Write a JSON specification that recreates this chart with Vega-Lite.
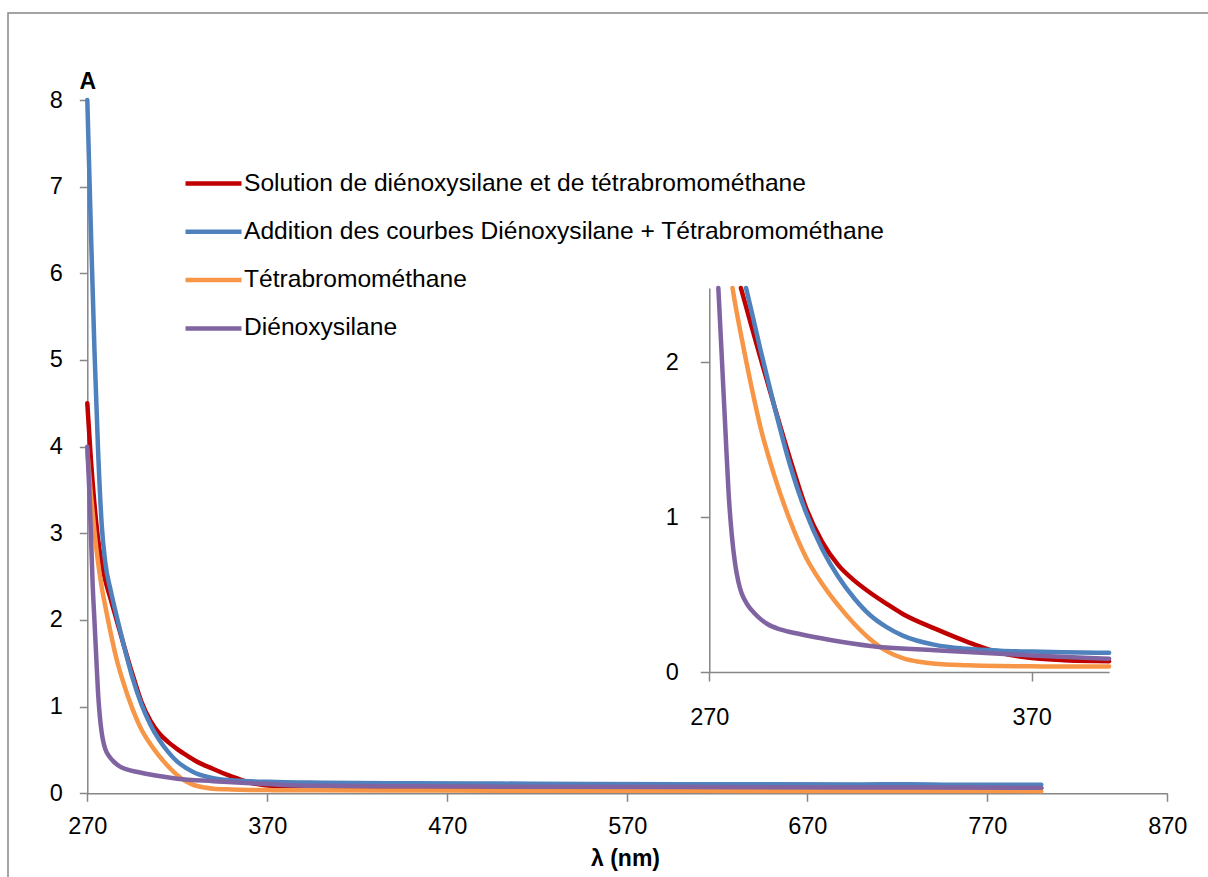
{
  "$schema": "https://vega.github.io/schema/vega-lite/v6.json",
  "width": 1210,
  "height": 870,
  "autosize": {"type": "none"},
  "padding": {"left": 8, "top": 13, "right": 0, "bottom": 0},
  "background": "white",
  "config": {
    "view": {"stroke": "#868686", "strokeWidth": 1.5},
    "axis": {
      "grid": false,
      "labelFlush": false,
      "labelFont": "Liberation Sans",
      "labelFontSize": 23.5,
      "labelColor": "#000000",
      "domainColor": "#868686",
      "domainWidth": 1.5,
      "tickColor": "#868686",
      "tickWidth": 1.5,
      "tickSize": 8,
      "titleFont": "Liberation Sans",
      "titleFontSize": 23,
      "titleFontWeight": "bold",
      "titleColor": "#000000"
    },
    "legend": {
      "labelFont": "Liberation Sans",
      "labelFontSize": 24.6,
      "labelColor": "#000000",
      "padding": 0
    }
  },
  "datasets": {
    "main": [
      {"s": "Solution de diénoxysilane et de tétrabromométhane", "x": 270, "y": 4.5},
      {"s": "Solution de diénoxysilane et de tétrabromométhane", "x": 272, "y": 3.85},
      {"s": "Solution de diénoxysilane et de tétrabromométhane", "x": 274, "y": 3.33},
      {"s": "Solution de diénoxysilane et de tétrabromométhane", "x": 276, "y": 2.93},
      {"s": "Solution de diénoxysilane et de tétrabromométhane", "x": 278, "y": 2.65},
      {"s": "Solution de diénoxysilane et de tétrabromométhane", "x": 280, "y": 2.46},
      {"s": "Solution de diénoxysilane et de tétrabromométhane", "x": 283, "y": 2.24},
      {"s": "Solution de diénoxysilane et de tétrabromométhane", "x": 286, "y": 2.02},
      {"s": "Solution de diénoxysilane et de tétrabromométhane", "x": 290, "y": 1.73},
      {"s": "Solution de diénoxysilane et de tétrabromométhane", "x": 295, "y": 1.38},
      {"s": "Solution de diénoxysilane et de tétrabromométhane", "x": 300, "y": 1.06},
      {"s": "Solution de diénoxysilane et de tétrabromométhane", "x": 305, "y": 0.84},
      {"s": "Solution de diénoxysilane et de tétrabromométhane", "x": 310, "y": 0.69},
      {"s": "Solution de diénoxysilane et de tétrabromométhane", "x": 315, "y": 0.59},
      {"s": "Solution de diénoxysilane et de tétrabromométhane", "x": 320, "y": 0.51},
      {"s": "Solution de diénoxysilane et de tétrabromométhane", "x": 325, "y": 0.44},
      {"s": "Solution de diénoxysilane et de tétrabromométhane", "x": 330, "y": 0.375},
      {"s": "Solution de diénoxysilane et de tétrabromométhane", "x": 340, "y": 0.28},
      {"s": "Solution de diénoxysilane et de tétrabromométhane", "x": 350, "y": 0.195},
      {"s": "Solution de diénoxysilane et de tétrabromométhane", "x": 360, "y": 0.125},
      {"s": "Solution de diénoxysilane et de tétrabromométhane", "x": 370, "y": 0.09},
      {"s": "Solution de diénoxysilane et de tétrabromométhane", "x": 380, "y": 0.076},
      {"s": "Solution de diénoxysilane et de tétrabromométhane", "x": 390, "y": 0.071},
      {"s": "Solution de diénoxysilane et de tétrabromométhane", "x": 400, "y": 0.068},
      {"s": "Solution de diénoxysilane et de tétrabromométhane", "x": 450, "y": 0.065},
      {"s": "Solution de diénoxysilane et de tétrabromométhane", "x": 500, "y": 0.063},
      {"s": "Solution de diénoxysilane et de tétrabromométhane", "x": 550, "y": 0.062},
      {"s": "Solution de diénoxysilane et de tétrabromométhane", "x": 600, "y": 0.061},
      {"s": "Solution de diénoxysilane et de tétrabromométhane", "x": 650, "y": 0.06},
      {"s": "Solution de diénoxysilane et de tétrabromométhane", "x": 700, "y": 0.06},
      {"s": "Solution de diénoxysilane et de tétrabromométhane", "x": 750, "y": 0.059},
      {"s": "Solution de diénoxysilane et de tétrabromométhane", "x": 800, "y": 0.058},

      {"s": "Addition des courbes Diénoxysilane + Tétrabromométhane", "x": 270, "y": 8.0},
      {"s": "Addition des courbes Diénoxysilane + Tétrabromométhane", "x": 272, "y": 6.5},
      {"s": "Addition des courbes Diénoxysilane + Tétrabromométhane", "x": 274, "y": 5.1},
      {"s": "Addition des courbes Diénoxysilane + Tétrabromométhane", "x": 276, "y": 3.95},
      {"s": "Addition des courbes Diénoxysilane + Tétrabromométhane", "x": 278, "y": 3.1},
      {"s": "Addition des courbes Diénoxysilane + Tétrabromométhane", "x": 280, "y": 2.66},
      {"s": "Addition des courbes Diénoxysilane + Tétrabromométhane", "x": 283, "y": 2.34},
      {"s": "Addition des courbes Diénoxysilane + Tétrabromométhane", "x": 286, "y": 2.07},
      {"s": "Addition des courbes Diénoxysilane + Tétrabromométhane", "x": 290, "y": 1.73},
      {"s": "Addition des courbes Diénoxysilane + Tétrabromométhane", "x": 295, "y": 1.34},
      {"s": "Addition des courbes Diénoxysilane + Tétrabromométhane", "x": 300, "y": 1.03},
      {"s": "Addition des courbes Diénoxysilane + Tétrabromométhane", "x": 305, "y": 0.795},
      {"s": "Addition des courbes Diénoxysilane + Tétrabromométhane", "x": 310, "y": 0.615},
      {"s": "Addition des courbes Diénoxysilane + Tétrabromométhane", "x": 315, "y": 0.475},
      {"s": "Addition des courbes Diénoxysilane + Tétrabromométhane", "x": 320, "y": 0.365},
      {"s": "Addition des courbes Diénoxysilane + Tétrabromométhane", "x": 325, "y": 0.29},
      {"s": "Addition des courbes Diénoxysilane + Tétrabromométhane", "x": 330, "y": 0.235},
      {"s": "Addition des courbes Diénoxysilane + Tétrabromométhane", "x": 340, "y": 0.175},
      {"s": "Addition des courbes Diénoxysilane + Tétrabromométhane", "x": 350, "y": 0.15},
      {"s": "Addition des courbes Diénoxysilane + Tétrabromométhane", "x": 360, "y": 0.138},
      {"s": "Addition des courbes Diénoxysilane + Tétrabromométhane", "x": 370, "y": 0.132},
      {"s": "Addition des courbes Diénoxysilane + Tétrabromométhane", "x": 380, "y": 0.128},
      {"s": "Addition des courbes Diénoxysilane + Tétrabromométhane", "x": 390, "y": 0.125},
      {"s": "Addition des courbes Diénoxysilane + Tétrabromométhane", "x": 400, "y": 0.122},
      {"s": "Addition des courbes Diénoxysilane + Tétrabromométhane", "x": 450, "y": 0.116},
      {"s": "Addition des courbes Diénoxysilane + Tétrabromométhane", "x": 500, "y": 0.112},
      {"s": "Addition des courbes Diénoxysilane + Tétrabromométhane", "x": 550, "y": 0.108},
      {"s": "Addition des courbes Diénoxysilane + Tétrabromométhane", "x": 600, "y": 0.105},
      {"s": "Addition des courbes Diénoxysilane + Tétrabromométhane", "x": 650, "y": 0.103},
      {"s": "Addition des courbes Diénoxysilane + Tétrabromométhane", "x": 700, "y": 0.102},
      {"s": "Addition des courbes Diénoxysilane + Tétrabromométhane", "x": 725, "y": 0.105},
      {"s": "Addition des courbes Diénoxysilane + Tétrabromométhane", "x": 750, "y": 0.1},
      {"s": "Addition des courbes Diénoxysilane + Tétrabromométhane", "x": 800, "y": 0.098},

      {"s": "Tétrabromométhane", "x": 270, "y": 3.95},
      {"s": "Tétrabromométhane", "x": 272, "y": 3.45},
      {"s": "Tétrabromométhane", "x": 274, "y": 3.02},
      {"s": "Tétrabromométhane", "x": 276, "y": 2.66},
      {"s": "Tétrabromométhane", "x": 278, "y": 2.38},
      {"s": "Tétrabromométhane", "x": 280, "y": 2.16},
      {"s": "Tétrabromométhane", "x": 283, "y": 1.85},
      {"s": "Tétrabromométhane", "x": 286, "y": 1.57},
      {"s": "Tétrabromométhane", "x": 290, "y": 1.28},
      {"s": "Tétrabromométhane", "x": 295, "y": 0.98},
      {"s": "Tétrabromométhane", "x": 300, "y": 0.74},
      {"s": "Tétrabromométhane", "x": 305, "y": 0.57},
      {"s": "Tétrabromométhane", "x": 310, "y": 0.43},
      {"s": "Tétrabromométhane", "x": 315, "y": 0.31},
      {"s": "Tétrabromométhane", "x": 320, "y": 0.21},
      {"s": "Tétrabromométhane", "x": 325, "y": 0.135},
      {"s": "Tétrabromométhane", "x": 330, "y": 0.09},
      {"s": "Tétrabromométhane", "x": 335, "y": 0.066},
      {"s": "Tétrabromométhane", "x": 340, "y": 0.053},
      {"s": "Tétrabromométhane", "x": 350, "y": 0.044},
      {"s": "Tétrabromométhane", "x": 360, "y": 0.039},
      {"s": "Tétrabromométhane", "x": 370, "y": 0.037},
      {"s": "Tétrabromométhane", "x": 380, "y": 0.035},
      {"s": "Tétrabromométhane", "x": 390, "y": 0.035},
      {"s": "Tétrabromométhane", "x": 400, "y": 0.034},
      {"s": "Tétrabromométhane", "x": 450, "y": 0.032},
      {"s": "Tétrabromométhane", "x": 500, "y": 0.03},
      {"s": "Tétrabromométhane", "x": 600, "y": 0.028},
      {"s": "Tétrabromométhane", "x": 700, "y": 0.026},
      {"s": "Tétrabromométhane", "x": 800, "y": 0.025},

      {"s": "Diénoxysilane", "x": 270, "y": 4.0},
      {"s": "Diénoxysilane", "x": 271, "y": 3.55},
      {"s": "Diénoxysilane", "x": 272, "y": 3.0},
      {"s": "Diénoxysilane", "x": 273, "y": 2.4},
      {"s": "Diénoxysilane", "x": 274, "y": 1.98},
      {"s": "Diénoxysilane", "x": 275, "y": 1.56},
      {"s": "Diénoxysilane", "x": 276, "y": 1.15},
      {"s": "Diénoxysilane", "x": 277, "y": 0.88},
      {"s": "Diénoxysilane", "x": 278, "y": 0.7},
      {"s": "Diénoxysilane", "x": 279, "y": 0.585},
      {"s": "Diénoxysilane", "x": 280, "y": 0.51},
      {"s": "Diénoxysilane", "x": 282, "y": 0.43},
      {"s": "Diénoxysilane", "x": 284, "y": 0.38},
      {"s": "Diénoxysilane", "x": 286, "y": 0.34},
      {"s": "Diénoxysilane", "x": 288, "y": 0.31},
      {"s": "Diénoxysilane", "x": 292, "y": 0.275},
      {"s": "Diénoxysilane", "x": 298, "y": 0.245},
      {"s": "Diénoxysilane", "x": 308, "y": 0.205},
      {"s": "Diénoxysilane", "x": 320, "y": 0.168},
      {"s": "Diénoxysilane", "x": 340, "y": 0.14},
      {"s": "Diénoxysilane", "x": 370, "y": 0.107},
      {"s": "Diénoxysilane", "x": 394, "y": 0.086},
      {"s": "Diénoxysilane", "x": 450, "y": 0.08},
      {"s": "Diénoxysilane", "x": 500, "y": 0.077},
      {"s": "Diénoxysilane", "x": 600, "y": 0.072},
      {"s": "Diénoxysilane", "x": 700, "y": 0.068},
      {"s": "Diénoxysilane", "x": 800, "y": 0.065}
    ],
    "inset": [
      {"s": "Solution de diénoxysilane et de tétrabromométhane", "x": 279.8, "y": 2.48},
      {"s": "Solution de diénoxysilane et de tétrabromométhane", "x": 283, "y": 2.24},
      {"s": "Solution de diénoxysilane et de tétrabromométhane", "x": 286, "y": 2.02},
      {"s": "Solution de diénoxysilane et de tétrabromométhane", "x": 290, "y": 1.73},
      {"s": "Solution de diénoxysilane et de tétrabromométhane", "x": 295, "y": 1.38},
      {"s": "Solution de diénoxysilane et de tétrabromométhane", "x": 300, "y": 1.06},
      {"s": "Solution de diénoxysilane et de tétrabromométhane", "x": 305, "y": 0.84},
      {"s": "Solution de diénoxysilane et de tétrabromométhane", "x": 310, "y": 0.69},
      {"s": "Solution de diénoxysilane et de tétrabromométhane", "x": 315, "y": 0.59},
      {"s": "Solution de diénoxysilane et de tétrabromométhane", "x": 320, "y": 0.51},
      {"s": "Solution de diénoxysilane et de tétrabromométhane", "x": 325, "y": 0.44},
      {"s": "Solution de diénoxysilane et de tétrabromométhane", "x": 330, "y": 0.375},
      {"s": "Solution de diénoxysilane et de tétrabromométhane", "x": 340, "y": 0.28},
      {"s": "Solution de diénoxysilane et de tétrabromométhane", "x": 350, "y": 0.195},
      {"s": "Solution de diénoxysilane et de tétrabromométhane", "x": 360, "y": 0.125},
      {"s": "Solution de diénoxysilane et de tétrabromométhane", "x": 370, "y": 0.09},
      {"s": "Solution de diénoxysilane et de tétrabromométhane", "x": 380, "y": 0.076},
      {"s": "Solution de diénoxysilane et de tétrabromométhane", "x": 390, "y": 0.071},
      {"s": "Solution de diénoxysilane et de tétrabromométhane", "x": 394, "y": 0.07},

      {"s": "Addition des courbes Diénoxysilane + Tétrabromométhane", "x": 281.4, "y": 2.48},
      {"s": "Addition des courbes Diénoxysilane + Tétrabromométhane", "x": 283, "y": 2.34},
      {"s": "Addition des courbes Diénoxysilane + Tétrabromométhane", "x": 286, "y": 2.07},
      {"s": "Addition des courbes Diénoxysilane + Tétrabromométhane", "x": 290, "y": 1.73},
      {"s": "Addition des courbes Diénoxysilane + Tétrabromométhane", "x": 295, "y": 1.34},
      {"s": "Addition des courbes Diénoxysilane + Tétrabromométhane", "x": 300, "y": 1.03},
      {"s": "Addition des courbes Diénoxysilane + Tétrabromométhane", "x": 305, "y": 0.795},
      {"s": "Addition des courbes Diénoxysilane + Tétrabromométhane", "x": 310, "y": 0.615},
      {"s": "Addition des courbes Diénoxysilane + Tétrabromométhane", "x": 315, "y": 0.475},
      {"s": "Addition des courbes Diénoxysilane + Tétrabromométhane", "x": 320, "y": 0.365},
      {"s": "Addition des courbes Diénoxysilane + Tétrabromométhane", "x": 325, "y": 0.29},
      {"s": "Addition des courbes Diénoxysilane + Tétrabromométhane", "x": 330, "y": 0.235},
      {"s": "Addition des courbes Diénoxysilane + Tétrabromométhane", "x": 340, "y": 0.175},
      {"s": "Addition des courbes Diénoxysilane + Tétrabromométhane", "x": 350, "y": 0.15},
      {"s": "Addition des courbes Diénoxysilane + Tétrabromométhane", "x": 360, "y": 0.138},
      {"s": "Addition des courbes Diénoxysilane + Tétrabromométhane", "x": 370, "y": 0.132},
      {"s": "Addition des courbes Diénoxysilane + Tétrabromométhane", "x": 380, "y": 0.128},
      {"s": "Addition des courbes Diénoxysilane + Tétrabromométhane", "x": 390, "y": 0.125},
      {"s": "Addition des courbes Diénoxysilane + Tétrabromométhane", "x": 394, "y": 0.124},

      {"s": "Tétrabromométhane", "x": 277.2, "y": 2.48},
      {"s": "Tétrabromométhane", "x": 278, "y": 2.38},
      {"s": "Tétrabromométhane", "x": 280, "y": 2.16},
      {"s": "Tétrabromométhane", "x": 283, "y": 1.85},
      {"s": "Tétrabromométhane", "x": 286, "y": 1.57},
      {"s": "Tétrabromométhane", "x": 290, "y": 1.28},
      {"s": "Tétrabromométhane", "x": 295, "y": 0.98},
      {"s": "Tétrabromométhane", "x": 300, "y": 0.74},
      {"s": "Tétrabromométhane", "x": 305, "y": 0.57},
      {"s": "Tétrabromométhane", "x": 310, "y": 0.43},
      {"s": "Tétrabromométhane", "x": 315, "y": 0.31},
      {"s": "Tétrabromométhane", "x": 320, "y": 0.21},
      {"s": "Tétrabromométhane", "x": 325, "y": 0.135},
      {"s": "Tétrabromométhane", "x": 330, "y": 0.09},
      {"s": "Tétrabromométhane", "x": 335, "y": 0.066},
      {"s": "Tétrabromométhane", "x": 340, "y": 0.053},
      {"s": "Tétrabromométhane", "x": 350, "y": 0.044},
      {"s": "Tétrabromométhane", "x": 360, "y": 0.039},
      {"s": "Tétrabromométhane", "x": 370, "y": 0.037},
      {"s": "Tétrabromométhane", "x": 380, "y": 0.035},
      {"s": "Tétrabromométhane", "x": 390, "y": 0.035},
      {"s": "Tétrabromométhane", "x": 394, "y": 0.035},

      {"s": "Diénoxysilane", "x": 272.8, "y": 2.48},
      {"s": "Diénoxysilane", "x": 273, "y": 2.4},
      {"s": "Diénoxysilane", "x": 274, "y": 1.98},
      {"s": "Diénoxysilane", "x": 275, "y": 1.56},
      {"s": "Diénoxysilane", "x": 276, "y": 1.15},
      {"s": "Diénoxysilane", "x": 277, "y": 0.88},
      {"s": "Diénoxysilane", "x": 278, "y": 0.7},
      {"s": "Diénoxysilane", "x": 279, "y": 0.585},
      {"s": "Diénoxysilane", "x": 280, "y": 0.51},
      {"s": "Diénoxysilane", "x": 282, "y": 0.43},
      {"s": "Diénoxysilane", "x": 284, "y": 0.38},
      {"s": "Diénoxysilane", "x": 286, "y": 0.34},
      {"s": "Diénoxysilane", "x": 288, "y": 0.31},
      {"s": "Diénoxysilane", "x": 292, "y": 0.275},
      {"s": "Diénoxysilane", "x": 298, "y": 0.245},
      {"s": "Diénoxysilane", "x": 308, "y": 0.205},
      {"s": "Diénoxysilane", "x": 320, "y": 0.168},
      {"s": "Diénoxysilane", "x": 340, "y": 0.14},
      {"s": "Diénoxysilane", "x": 370, "y": 0.107},
      {"s": "Diénoxysilane", "x": 394, "y": 0.086}
    ]
  },
  "layer": [
    {
      "data": {"name": "main"},
      "mark": {"type": "line", "strokeWidth": 4.5, "interpolate": "monotone", "strokeCap": "round"},
      "encoding": {
        "x": {
          "field": "x", "type": "quantitative",
          "scale": {"domain": [270, 870], "range": [79.3, 1159.3], "nice": false, "zero": false},
          "axis": {
            "orient": "bottom", "offset": -89.7,
            "values": [270, 370, 470, 570, 670, 770, 870],
            "labelPadding": 13,
            "title": "λ (nm)",
            "titleX": 617, "titleY": 72, "titleAlign": "center", "titleBaseline": "alphabetic"
          }
        },
        "y": {
          "field": "y", "type": "quantitative",
          "scale": {"domain": [0, 8], "range": [780.3, 87], "nice": false, "zero": true},
          "axis": {
            "orient": "left", "offset": -79.3,
            "values": [0, 1, 2, 3, 4, 5, 6, 7, 8],
            "labelPadding": 17,
            "title": "A",
            "titleAngle": 0, "titleX": 0, "titleY": 75, "titleAlign": "center", "titleBaseline": "alphabetic"
          }
        },
        "color": {
          "field": "s", "type": "nominal", "sort": null,
          "scale": {
            "domain": ["Solution de diénoxysilane et de tétrabromométhane", "Addition des courbes Diénoxysilane + Tétrabromométhane", "Tétrabromométhane", "Diénoxysilane"],
            "range": ["#C00000", "#4F81BD", "#F79646", "#8064A2"]
          },
          "legend": {
            "orient": "none", "legendX": 175, "legendY": 140,
            "title": null,
            "symbolType": "stroke", "symbolSize": 3136, "symbolStrokeWidth": 4.5,
            "labelOffset": 0, "rowPadding": 5.3, "labelLimit": 800
          }
        }
      }
    },
    {
      "data": {"name": "inset"},
      "mark": {"type": "line", "strokeWidth": 4.5, "interpolate": "monotone", "strokeCap": "round"},
      "encoding": {
        "x": {
          "field": "x", "type": "quantitative",
          "scale": {"domain": [270, 394], "range": [701.3, 1101.1], "nice": false, "zero": false},
          "axis": {"orient": "bottom", "offset": -211, "values": [270, 370], "labelPadding": 24, "tickSize": 9, "title": null}
        },
        "y": {
          "field": "y", "type": "quantitative",
          "scale": {"domain": [0, 2.48], "range": [659, 275], "nice": false, "zero": true},
          "axis": {"orient": "left", "offset": -701.3, "values": [0, 1, 2], "labelPadding": 22, "tickSize": 9, "title": null}
        },
        "color": {
          "field": "s", "type": "nominal", "sort": null,
          "scale": {
            "domain": ["Solution de diénoxysilane et de tétrabromométhane", "Addition des courbes Diénoxysilane + Tétrabromométhane", "Tétrabromométhane", "Diénoxysilane"],
            "range": ["#C00000", "#4F81BD", "#F79646", "#8064A2"]
          },
          "legend": null
        }
      }
    }
  ],
  "resolve": {
    "scale": {"x": "independent", "y": "independent"},
    "axis": {"x": "independent", "y": "independent"}
  }
}
